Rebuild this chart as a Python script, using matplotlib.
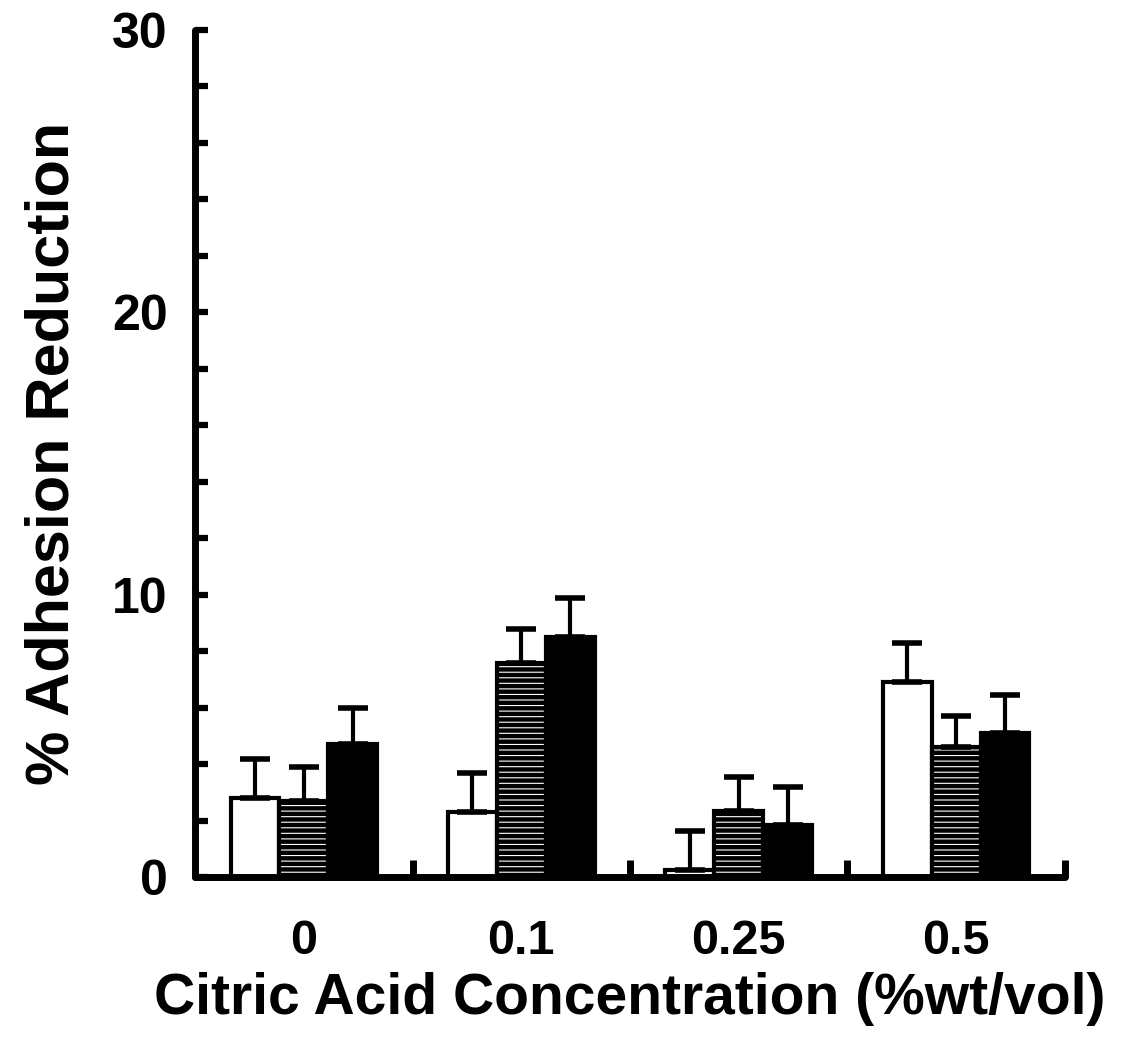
import numpy as np
import matplotlib.pyplot as plt

plt.rcParams['font.family'] = ['Liberation Sans', 'DejaVu Sans']
plt.rcParams['font.weight'] = 'bold'
plt.rcParams['axes.labelweight'] = 'bold'
plt.rcParams['hatch.linewidth'] = 3.2

groups = ["0", "0.1", "0.25", "0.5"]
white_vals = [2.8, 2.3, 0.25, 6.9]
white_err = [1.4, 1.4, 1.4, 1.4]
hatch_vals = [2.7, 7.6, 2.35, 4.6]
hatch_err = [1.2, 1.2, 1.2, 1.1]
black_vals = [4.7, 8.5, 1.85, 5.1]
black_err = [1.3, 1.4, 1.35, 1.35]

fig = plt.figure(figsize=(11.22, 10.62), dpi=100)
ax = fig.add_axes([0.174, 0.174, 0.775, 0.798])

x = np.arange(len(groups))
w = 0.225
ekw = dict(elinewidth=3, capthick=4, ecolor='black')

ax.bar(x - w, white_vals, w, color='white', edgecolor='black', linewidth=3,
       yerr=[np.zeros(4), white_err], capsize=11, error_kw=ekw)
ax.bar(x, hatch_vals, w, color='white', edgecolor='black', linewidth=3,
       hatch='---', yerr=[np.zeros(4), hatch_err], capsize=11, error_kw=ekw)
ax.bar(x + w, black_vals, w, color='black', edgecolor='black', linewidth=3,
       yerr=[np.zeros(4), black_err], capsize=11, error_kw=ekw)

ax.set_xlim(-0.5, 3.5)
ax.set_ylim(0, 30)

ax.spines['top'].set_visible(False)
ax.spines['right'].set_visible(False)
ax.spines['left'].set_linewidth(5)
ax.spines['bottom'].set_linewidth(5)
ax.spines['left'].set_capstyle('round')
ax.spines['bottom'].set_capstyle('round')

ax.set_yticks(np.arange(0, 31, 2))
ax.set_yticklabels([str(v) if v % 10 == 0 else "" for v in range(0, 31, 2)])
ax.tick_params(axis='y', direction='in', length=9, width=4.5, labelsize=36, pad=20)

ax.set_xticks([0.5, 1.5, 2.5, 3.5])
ax.set_xticklabels([])
ax.tick_params(axis='x', which='major', direction='in', length=12, width=5)
ax.set_xticks(x, minor=True)
ax.set_xticklabels(groups, minor=True)
ax.tick_params(axis='x', which='minor', length=0, labelsize=35, pad=30)

ax.set_xlabel("Citric Acid Concentration (%wt/vol)", fontsize=41, labelpad=6)
ax.set_ylabel("% Adhesion Reduction", fontsize=44, labelpad=22)

fig.savefig("out.png", dpi=100)
